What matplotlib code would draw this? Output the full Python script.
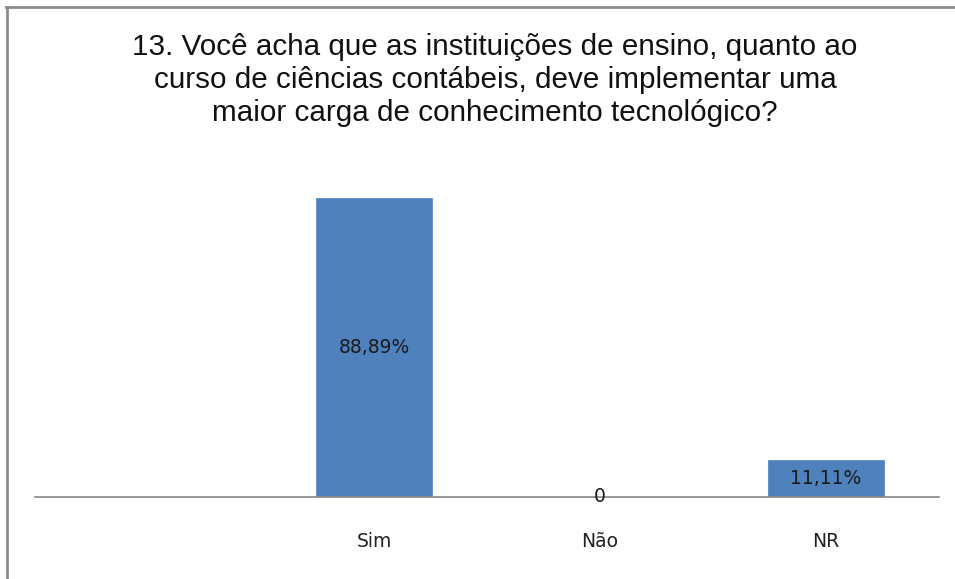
import matplotlib
matplotlib.use("Agg")
import matplotlib.pyplot as plt
from matplotlib.lines import Line2D

categories = ["Sim", "Não", "NR"]
values = [88.89, 0, 11.11]
labels = ["88,89%", "0", "11,11%"]
title = ("13. Você acha que as instituições de ensino, quanto ao\n"
         "curso de ciências contábeis, deve implementar uma\n"
         "maior carga de conhecimento tecnológico?")

W, H = 955, 579
fig = plt.figure(figsize=(W/100, H/100), dpi=100)
fig.patch.set_facecolor("white")

ax = fig.add_axes([35/W, 1-497/H, 904/W, (497-161)/H])
x = list(range(len(categories)))
ax.bar(x, values, width=0.51, color="#4F81BD", edgecolor="#5a8ac6", linewidth=0.6, zorder=2)
ax.set_xlim(-1.5, 2.5)
ax.set_ylim(0, 100)
for s in ["top", "right", "left"]:
    ax.spines[s].set_visible(False)
ax.spines["bottom"].set_color("#868686")
ax.spines["bottom"].set_linewidth(1.2)
ax.spines["bottom"].set_zorder(3)
ax.set_yticks([])
ax.set_xticks(x)
ax.set_xticklabels(categories, fontsize=13.5, color="#222222", family="DejaVu Sans")
ax.tick_params(axis="x", length=0, pad=25)

for xi, v, lab in zip(x, values, labels):
    ax.text(xi, v/2, lab, ha="center", va="center", fontsize=13.5, color="#1a1a1a",
            family="DejaVu Sans", zorder=4)

fig.text(495/W, 1-80/H, title, ha="center", va="center", fontsize=21.3,
         family="Liberation Sans", color="#111111", linespacing=1.22)

fig.add_artist(Line2D([6.5/W, 6.5/W], [0, 1-6.5/H], transform=fig.transFigure,
                      color="#8c8c8c", linewidth=2))
fig.add_artist(Line2D([5.5/W, 1], [1-6.5/H, 1-6.5/H], transform=fig.transFigure,
                      color="#8c8c8c", linewidth=2))

fig.savefig("out.png", dpi=100)
